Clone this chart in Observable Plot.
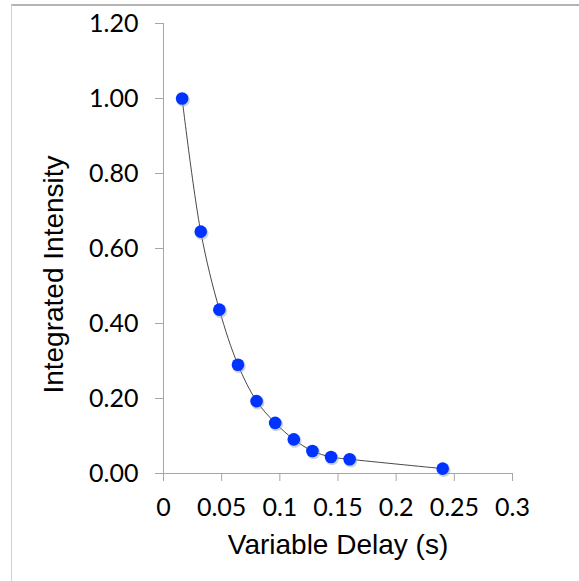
<!DOCTYPE html>
<html><head><meta charset="utf-8">
<script src="https://cdn.jsdelivr.net/npm/d3@7"></script>
<script src="https://cdn.jsdelivr.net/npm/@observablehq/plot@0.6"></script>
<style>
body{margin:0;background:#fff;}
#wrap{position:relative;width:579px;height:581px;overflow:hidden;}
#frame{position:absolute;left:11px;top:4px;right:-2px;bottom:-2px;border-top:2px solid #b4b4b4;border-left:1px solid #d0d0d0;}
#wrap svg{position:absolute;left:0;top:0;}
</style>
</head><body><div id="wrap"><div id="frame"></div></div>
<script>
const delays = [0.016, 0.032, 0.048, 0.064, 0.080, 0.096, 0.112, 0.128, 0.144, 0.160, 0.240];
const intensities = [1.00, 0.645, 0.437, 0.290, 0.193, 0.135, 0.091, 0.060, 0.044, 0.038, 0.013];
const xTicks = [0, 0.05, 0.1, 0.15, 0.2, 0.25, 0.3];
const yTicks = [0, 0.2, 0.4, 0.6, 0.8, 1.0, 1.2];
const xLabel = "Variable Delay (s)";
const yLabel = "Integrated Intensity";

const data = delays.map((d, i) => ({delay: d, intensity: intensities[i]}));
const axisGray = "#a6a6a6";

const chart = Plot.plot({
  width: 579, height: 581,
  marginLeft: 163, marginRight: 67, marginTop: 23, marginBottom: 108,
  style: {fontFamily: "Lato", fontSize: "25px", color: "#000", background: "transparent", overflow: "visible"},
  x: {domain: [0, 0.3]},
  y: {domain: [0, 1.2]},
  marks: [
    Plot.ruleX([0], {stroke: axisGray}),
    Plot.ruleY([0], {stroke: axisGray}),
    Plot.axisY({ticks: yTicks, tickFormat: d => d.toFixed(2), tickSize: 8, tickPadding: 17, stroke: axisGray, fill: "#000", label: null, fontSize: 25}),
    Plot.axisX({ticks: xTicks, tickFormat: d => String(+d.toFixed(2)), tickSize: 8, tickPadding: 17, stroke: axisGray, fill: "#000", label: null, fontSize: 25}),
    Plot.line(data, {x: "delay", y: "intensity", curve: "catmull-rom", stroke: "#333", strokeWidth: 0.9}),
    Plot.dot(data, {x: "delay", y: "intensity", r: 6.8, fill: "#9aa3b8", fillOpacity: 0.5, dx: 1, dy: 1.5}),
    Plot.dot(data, {x: "delay", y: "intensity", r: 6.3, fill: "#0033ff"}),
    Plot.text([xLabel], {frameAnchor: "bottom", lineAnchor: "top", dy: 61, fontFamily: "Liberation Sans", fontSize: 28, fill: "#000"}),
    Plot.text([yLabel], {frameAnchor: "left", textAnchor: "middle", rotate: -90, lineAnchor: "middle", dx: -109, dy: 26, fontFamily: "Liberation Sans", fontSize: 28, fill: "#000"})
  ]
});
document.getElementById("wrap").appendChild(chart);
</script>
</body></html>
